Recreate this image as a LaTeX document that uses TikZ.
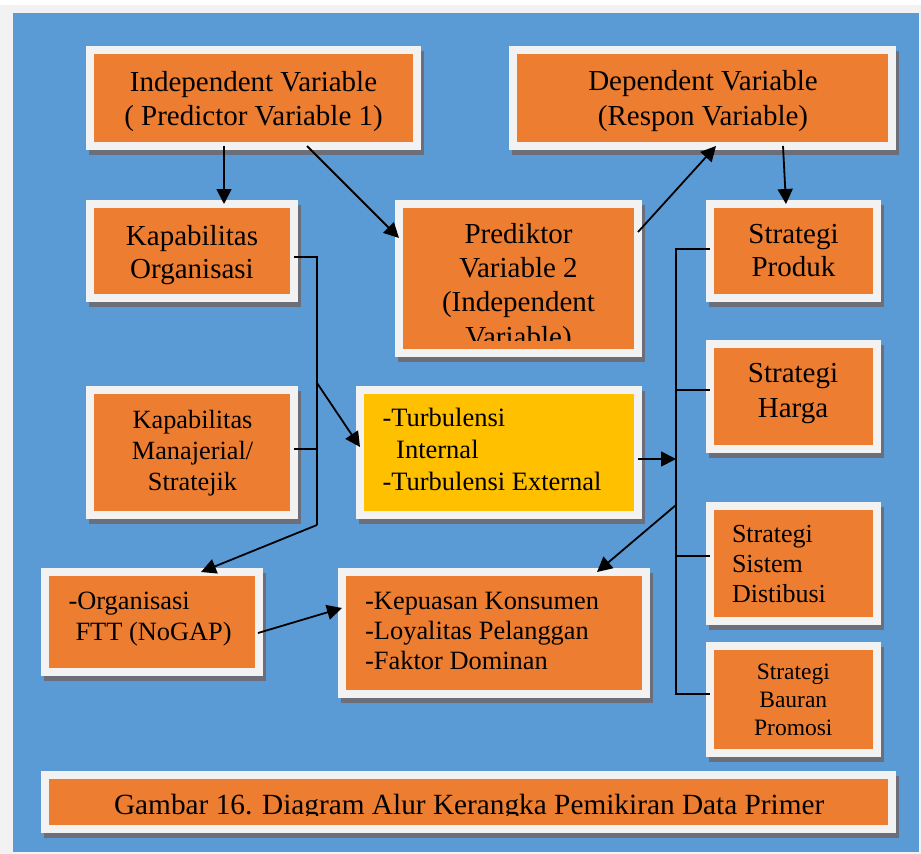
\documentclass[tikz,border=0pt]{standalone}
\usepackage{fontspec}
\setmainfont{Liberation Serif}
\usetikzlibrary{arrows.meta,calc}
\definecolor{pagegray}{HTML}{F2F2F2}
\definecolor{bgblue}{HTML}{5B9BD5}
\definecolor{boxorange}{HTML}{ED7D31}
\definecolor{boxyellow}{HTML}{FFC000}
\definecolor{rimwhite}{HTML}{F2F2F2}
\definecolor{shadowgray}{HTML}{6C6E7A}

\begin{document}
\begin{tikzpicture}[x=1pt,y=-1pt,
  panel/.style={rectangle, draw=rimwhite, line width=8pt, fill=boxorange,
    inner sep=0pt, outer sep=0pt,
    preaction={draw=shadowgray, fill=shadowgray, line width=8pt,
      transform canvas={xshift=3pt,yshift=-4.5pt}}},
  hot/.style={fill=boxyellow},
  txt/.style={inner sep=0pt, outer sep=0pt, text=black},
  wire/.style={line width=1.8pt, black},
  arr/.style={wire, -{Triangle[length=15pt,width=15pt]}},
]
% page and blue canvas
\fill[white] (0,0) rectangle (921,854);
\fill[pagegray] (0,5) rectangle (921,854);
\fill[bgblue] (13,13) rectangle (919,852);
\useasboundingbox (0,0) rectangle (921,854);

% boxes
\node[panel, minimum width=327pt, minimum height=96pt]  (ind)    at (253.5,98)  {};
\node[panel, minimum width=379pt, minimum height=96pt]  (dep)    at (702.5,98)  {};
\node[panel, minimum width=204pt, minimum height=94pt]  (kor)    at (192,251)   {};
\node[panel, minimum width=239pt, minimum height=149pt] (pred)   at (518.5,278.5) {};
\node[panel, minimum width=167pt, minimum height=94pt]  (sprod)  at (793.5,251) {};
\node[panel, minimum width=167pt, minimum height=105pt] (sharga) at (793.5,396.5) {};
\node[panel, minimum width=204pt, minimum height=125pt] (kman)   at (192,452.5) {};
\node[panel, hot, minimum width=278pt, minimum height=125pt] (turb) at (499,452.5) {};
\node[panel, minimum width=167pt, minimum height=115pt] (ssis)   at (793.5,563.5) {};
\node[panel, minimum width=167pt, minimum height=107pt] (sbau)   at (793.5,699.5) {};
\node[panel, minimum width=214pt, minimum height=100pt] (org)    at (152,622)   {};
\node[panel, minimum width=304pt, minimum height=122pt] (kep)    at (494,633)   {};
\node[panel, minimum width=847pt, minimum height=54pt]  (cap)    at (468.5,802) {};

% texts
\node[txt, font=\fontsize{29}{34.3}\selectfont, align=center] (ind-t) at (253.5,101.2)
  {Independent Variable\\( Predictor Variable 1)};
\node[txt, font=\fontsize{29}{34.3}\selectfont, align=center] (dep-t) at (703,101.1)
  {Dependent Variable\\(Respon Variable)};
\node[txt, font=\fontsize{29}{33}\selectfont, align=center] (kor-t) at (192,254.85)
  {Kapabilitas\\Organisasi};
\begin{scope}
  \clip (395,200) rectangle (642,340);
  \node[txt, font=\fontsize{29}{34.3}\selectfont, align=center] (pred-t) at (518.5,287.85)
    {Prediktor\\Variable 2\\(Independent\\Variable)};
\end{scope}
\node[txt, font=\fontsize{29}{33}\selectfont, align=center] (sprod-t) at (793.5,250.8)
  {Strategi\\Produk};
\node[txt, font=\fontsize{29}{35}\selectfont, align=center] (sharga-t) at (793,393.85)
  {Strategi\\Harga};
\node[txt, font=\fontsize{26.3}{30.85}\selectfont, align=center] (kman-t) at (192.5,453.1)
  {Kapabilitas\\Manajerial/\\Stratejik};
\node[txt, font=\fontsize{26.5}{31.65}\selectfont, align=left, anchor=west] (turb-t) at (382.5,449.4)
  {-Turbulensi\\\hspace*{13.7pt}Internal\\-Turbulensi External};
\node[txt, font=\fontsize{26}{30}\selectfont, align=left, anchor=west] (ssis-t) at (732,563.9)
  {Strategi\\Sistem\\Distibusi};
\node[txt, font=\fontsize{23.5}{27.7}\selectfont, align=center] (sbau-t) at (793.3,699.7)
  {Strategi\\Bauran\\Promosi};
\node[txt, font=\fontsize{26.4}{31}\selectfont, align=left, anchor=west] (org-t) at (68.5,619.4)
  {-Organisasi\\\hspace*{7pt}FTT (NoGAP)};
\node[txt, font=\fontsize{26.4}{30}\selectfont, align=left, anchor=west] (kep-t) at (365.2,631.35)
  {-Kepuasan Konsumen\\-Loyalitas Pelanggan\\-Faktor Dominan};
\begin{scope}
  \clip (41,771) rectangle (896,815.5);
  \node[txt, font=\fontsize{29.3}{34}\selectfont, anchor=base] (cap-t) at (469.2,814)
    {Gambar 16. Diagram Alur Kerangka Pemikiran Data Primer};
\end{scope}

% junction points of the connector lines
\coordinate (bL) at (317,257);
\coordinate (bM) at (317,383);
\coordinate (bB) at (317,525);
\coordinate (busT) at (676,249);
\coordinate (busK) at (676,505);
\coordinate (busB) at (676,694);

% connectors
\draw[arr] ($(ind.south west)+(134,0)$) -- ($(kor.north west)+(134,0)$);
\draw[arr] ($(ind.south west)+(217,0)$) -- ($(pred.north west)+(0,34)$);
\draw[arr] ($(pred.north east)+(0,28)$) -- ($(dep.south west)+(203,0)$);
\draw[arr] ($(dep.south west)+(270,0)$) -- ($(sprod.north west)+(76,0)$);

\draw[wire] ($(kor.east)+(0,6)$) -- (bL) -- (bB);
\draw[wire] ($(kman.east)+(0,-3.5)$) -- ($(kman.east)+(23,-3.5)$);
\draw[arr] (bM) -- ($(turb.west)+(0,-5.5)$);
\draw[arr] (bB) -- ($(org.north west)+(156,0)$);

\draw[arr] ($(turb.east)+(0,6.5)$) -- ($(turb.east)+(38,6.5)$);
\draw[wire] ($(sprod.west)+(0,-2)$) -- (busT) -- (busB) -- ($(sbau.west)+(0,-5.5)$);
\draw[wire] ($(sharga.west)+(0,-6.5)$) -- ($(sharga.west)+(-34,-6.5)$);
\draw[wire] ($(ssis.west)+(0,-7.5)$) -- ($(ssis.west)+(-34,-7.5)$);
\draw[arr] (busK) -- ($(kep.north west)+(255,0)$);
\draw[arr] ($(org.east)+(-1,11)$) -- ($(kep.west)+(0,-25)$);
\end{tikzpicture}
\end{document}
